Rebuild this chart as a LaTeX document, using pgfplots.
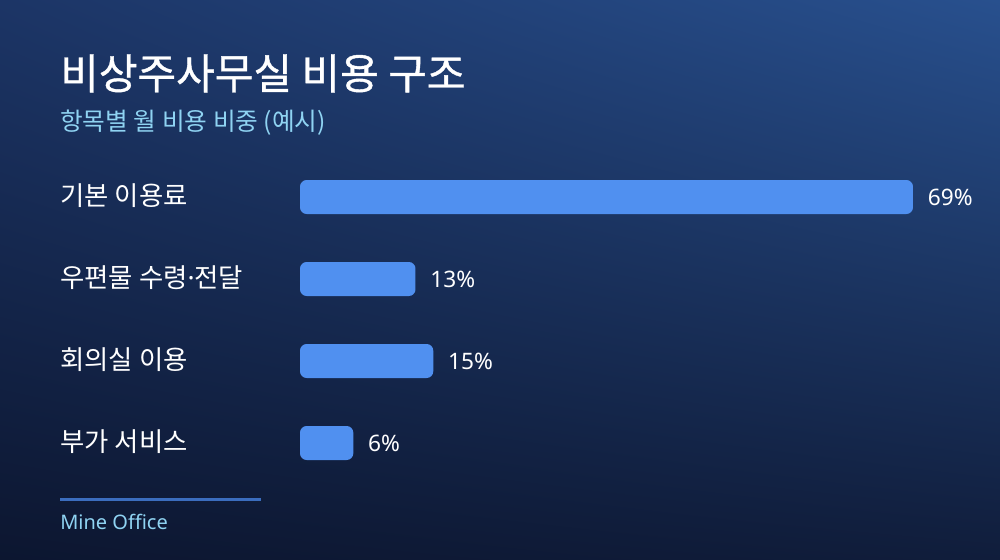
\documentclass[border=0pt]{standalone}
\usepackage{pgfplots}
\pgfplotsset{compat=1.18}
\usetikzlibrary{shadings}
\usepackage{fontspec}
\setmainfont{Noto Sans CJK KR}
\newfontfamily\latinfont{Noto Sans}
\newfontfamily\titlefont[FakeBold=0.9]{Noto Sans CJK KR}
\definecolor{barblue}{HTML}{5090F0}
\definecolor{subcyan}{HTML}{8FD3F2}
\definecolor{lineblue}{HTML}{3B6DBE}
\definecolor{bgUL}{HTML}{1C3566}
\definecolor{bgUR}{HTML}{28508E}
\definecolor{bgLL}{HTML}{0C1630}
\definecolor{bgLR}{HTML}{101D3B}
\begin{document}
\begin{tikzpicture}
\useasboundingbox (0pt,0pt) rectangle (750pt,420pt);
\shade[upper left=bgUL, upper right=bgUR, lower left=bgLL, lower right=bgLR] (0pt,0pt) rectangle (750pt,420pt);
% title
\node[anchor=west, inner sep=0, text=white, font=\titlefont\fontsize{31.5}{36}\selectfont] at (45pt,365pt) {비상주사무실 비용 구조};
\node[anchor=west, inner sep=0, text=subcyan, font=\fontsize{18.5}{22}\selectfont] at (45pt,327.75pt) {항목별 월 비용 비중 (예시)};
\begin{axis}[
  at={(225pt,57pt)}, anchor=south west,
  scale only axis,
  width=459.75pt, height=246pt,
  xmin=0, xmax=69,
  ymin=-0.5, ymax=3.5,
  y dir=reverse,
  axis lines=none,
  xbar, bar width=25.5pt,
  ytick={0,1,2,3},
  clip=false,
  /pgf/number format/assume math mode=true,
  nodes near coords={\pgfmathprintnumber\pgfplotspointmeta\%},
  nodes near coords style={anchor=west, inner sep=0, xshift=11pt, text=white, font=\latinfont\fontsize{17}{20}\selectfont},
]
\addplot[fill=barblue, draw=none, rounded corners=5pt] coordinates {(69,0) (13,1) (15,2) (6,3)};
\end{axis}
\foreach \lab/\yy in {기본 이용료/273, {우편물 수령{\latinfont ·}전달}/211.5, 회의실 이용/150, 부가 서비스/88.5}{
  \node[anchor=west, inner sep=0, text=white, font=\fontsize{19.8}{24}\selectfont] at (45pt,\yy pt) {\lab};
}
\draw[lineblue, line width=2.25pt] (45pt,45pt) -- (195.75pt,45pt);
\node[anchor=west, inner sep=0, text=subcyan, font=\latinfont\fontsize{15}{18}\selectfont] at (45pt,28.5pt) {Mine Office};
\end{tikzpicture}
\end{document}
